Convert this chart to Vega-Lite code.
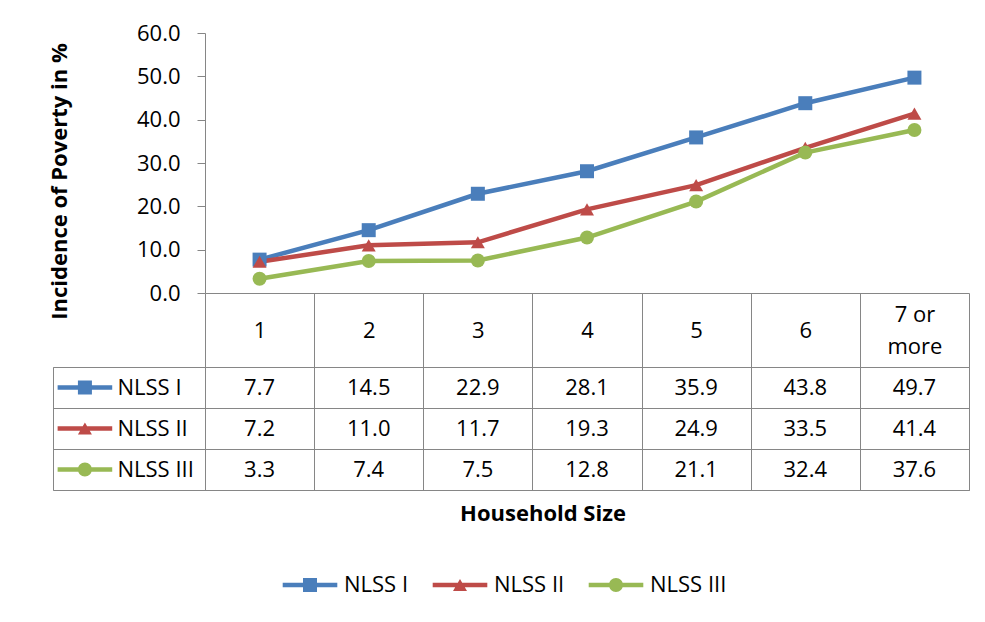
{
  "$schema": "https://vega.github.io/schema/vega-lite/v6.json",
  "padding": {"left": 47, "top": 22, "right": 10, "bottom": 10},
  "config": {
    "font": "Open Sans",
    "view": {"stroke": "#868686", "strokeWidth": 1},
    "axis": {
      "domainColor": "#868686",
      "tickColor": "#868686",
      "gridColor": "#868686",
      "gridOpacity": 1,
      "labelColor": "black",
      "titleColor": "black",
      "labelFont": "Open Sans",
      "titleFont": "Open Sans"
    },
    "legend": {"labelFont": "Open Sans", "labelColor": "black"},
    "title": {"font": "Open Sans", "color": "black"}
  },
  "datasets": {
    "poverty": [
      {"size": "1", "series": "NLSS I", "value": 7.7},
      {"size": "2", "series": "NLSS I", "value": 14.5},
      {"size": "3", "series": "NLSS I", "value": 22.9},
      {"size": "4", "series": "NLSS I", "value": 28.1},
      {"size": "5", "series": "NLSS I", "value": 35.9},
      {"size": "6", "series": "NLSS I", "value": 43.8},
      {"size": "7 or more", "series": "NLSS I", "value": 49.7},
      {"size": "1", "series": "NLSS II", "value": 7.2},
      {"size": "2", "series": "NLSS II", "value": 11.0},
      {"size": "3", "series": "NLSS II", "value": 11.7},
      {"size": "4", "series": "NLSS II", "value": 19.3},
      {"size": "5", "series": "NLSS II", "value": 24.9},
      {"size": "6", "series": "NLSS II", "value": 33.5},
      {"size": "7 or more", "series": "NLSS II", "value": 41.4},
      {"size": "1", "series": "NLSS III", "value": 3.3},
      {"size": "2", "series": "NLSS III", "value": 7.4},
      {"size": "3", "series": "NLSS III", "value": 7.5},
      {"size": "4", "series": "NLSS III", "value": 12.8},
      {"size": "5", "series": "NLSS III", "value": 21.1},
      {"size": "6", "series": "NLSS III", "value": 32.4},
      {"size": "7 or more", "series": "NLSS III", "value": 37.6}
    ],
    "series": [
      {"series": "NLSS I"},
      {"series": "NLSS II"},
      {"series": "NLSS III"}
    ]
  },
  "bounds": "flush",
  "columns": 2,
  "spacing": {"row": 74, "column": 0},
  "resolve": {"scale": {"color": "independent", "shape": "independent"}},
  "concat": [
    {
      "width": 152,
      "height": 260,
      "data": {"values": []},
      "mark": "point",
      "view": {"stroke": null}
    },
    {
      "width": 764,
      "height": 260,
      "data": {"name": "poverty"},
      "view": {"stroke": null},
      "encoding": {
        "x": {
          "field": "size",
          "type": "nominal",
          "scale": {"domain": ["1", "2", "3", "4", "5", "6", "7 or more"], "paddingInner": 0, "paddingOuter": 0},
          "axis": {"orient": "bottom", "labels": false, "ticks": false, "grid": false, "domain": true, "title": null}
        },
        "y": {
          "field": "value",
          "type": "quantitative",
          "scale": {"domain": [0, 60]},
          "axis": {
            "values": [0, 10, 20, 30, 40, 50, 60],
            "format": ".1f",
            "grid": false,
            "tickSize": 8,
            "labelPadding": 17,
            "labelFontSize": 22,
            "title": "Incidence of Poverty in %",
            "titleFontSize": 22,
            "titleFontWeight": "bold",
            "titleX": -146,
            "titleY": 148,
            "titleBaseline": "middle"
          }
        },
        "color": {
          "field": "series",
          "type": "nominal",
          "scale": {"domain": ["NLSS I", "NLSS II", "NLSS III"], "range": ["#4a7ebb", "#be4b48", "#98b954"]},
          "legend": null
        }
      },
      "layer": [
        {"mark": {"type": "line", "strokeWidth": 4.5}},
        {
          "mark": {"type": "point", "filled": true, "opacity": 1, "size": 196},
          "encoding": {
            "shape": {
              "field": "series",
              "type": "nominal",
              "scale": {"domain": ["NLSS I", "NLSS II", "NLSS III"], "range": ["square", "triangle-up", "circle"]},
              "legend": null
            }
          }
        }
      ]
    },
    {
      "width": 152,
      "height": 123,
      "data": {"name": "series"},
      "mark": {"type": "point", "filled": true, "opacity": 1, "size": 196},
      "encoding": {
        "y": {
          "field": "series",
          "type": "nominal",
          "scale": {"domain": ["NLSS I", "NLSS II", "NLSS III"], "paddingInner": 0, "paddingOuter": 0},
          "axis": {
            "labels": true,
            "ticks": false,
            "tickSize": 0,
            "domain": false,
            "grid": true,
            "tickBand": "extent",
            "title": null,
            "labelAlign": "left",
            "labelBaseline": "middle",
            "labelPadding": -64,
            "labelFontSize": 22
          }
        },
        "x": {
          "datum": "key",
          "type": "nominal",
          "scale": {"type": "point", "domain": ["key"], "align": 0.21},
          "axis": null
        },
        "color": {
          "field": "series",
          "type": "nominal",
          "scale": {"domain": ["NLSS I", "NLSS II", "NLSS III"], "range": ["#4a7ebb", "#be4b48", "#98b954"]},
          "legend": {
            "orient": "none", "legendX": 246, "legendY": 207, "direction": "horizontal",
            "title": null, "symbolSize": 196, "symbolStrokeWidth": 0, "labelOffset": 23,
            "columnPadding": 23, "labelFontSize": 22, "padding": 0
          }
        },
        "shape": {
          "field": "series",
          "type": "nominal",
          "scale": {
            "domain": ["NLSS I", "NLSS II", "NLSS III"],
            "range": [
              "M-3.9,-0.32H3.9V0.32H-3.9Z M-1,-1H1V1H-1Z",
              "M-3.9,-0.32H3.9V0.32H-3.9Z M0,-0.87L1,0.87H-1Z",
              "M-3.9,-0.32H3.9V0.32H-3.9Z M-1,0A1,1,0,1,1,1,0A1,1,0,1,1,-1,0Z"
            ]
          },
          "legend": {
            "orient": "none", "legendX": 246, "legendY": 207, "direction": "horizontal",
            "title": null, "symbolSize": 196, "symbolStrokeWidth": 0, "labelOffset": 23,
            "columnPadding": 23, "labelFontSize": 22, "padding": 0
          }
        }
      }
    },
    {
      "width": 764,
      "height": 123,
      "data": {"name": "poverty"},
      "mark": {"type": "text", "fontSize": 22, "color": "black"},
      "encoding": {
        "x": {
          "field": "size",
          "type": "nominal",
          "scale": {"domain": ["1", "2", "3", "4", "5", "6", "7 or more"], "paddingInner": 0, "paddingOuter": 0},
          "axis": {
            "orient": "top",
            "tickBand": "extent",
            "tickSize": 74,
            "domain": false,
            "grid": true,
            "labelAngle": 0,
            "labelPadding": {"condition": {"test": "datum.value == '7 or more'", "value": -21}, "value": -37},
            "labelBaseline": "middle",
            "labelFontSize": 22,
            "labelLineHeight": 32,
            "labelExpr": "datum.value == '7 or more' ? ['7 or', 'more'] : datum.label",
            "title": null
          }
        },
        "y": {
          "field": "series",
          "type": "nominal",
          "scale": {"domain": ["NLSS I", "NLSS II", "NLSS III"], "paddingInner": 0, "paddingOuter": 0},
          "axis": {"labels": false, "ticks": false, "domain": false, "grid": true, "tickBand": "extent", "title": null}
        },
        "text": {"field": "value", "type": "quantitative", "format": ".1f"}
      },
      "title": {
        "text": "Household Size",
        "orient": "bottom",
        "anchor": "middle",
        "dx": -44,
        "offset": 14,
        "fontSize": 22,
        "fontWeight": "bold",
        "color": "black"
      }
    }
  ]
}
